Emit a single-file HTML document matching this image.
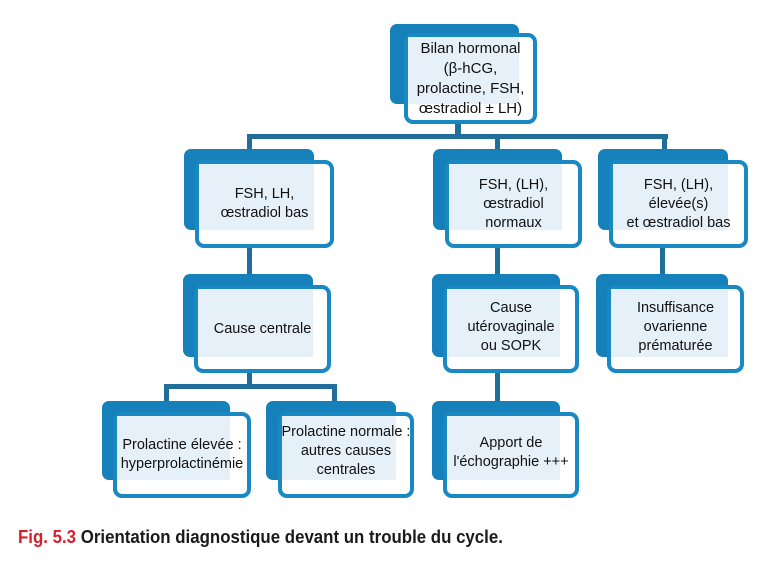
<!DOCTYPE html>
<html><head><meta charset="utf-8">
<style>
body{margin:0;width:765px;height:562px;background:#fff;position:relative;overflow:hidden;font-family:"Liberation Sans",Arial,sans-serif;}
.bk{position:absolute;background:#1580b9;border-radius:7px;}
.fr{position:absolute;background:#fff;border:4px solid #1a88c2;border-radius:9px;box-sizing:border-box;}
.pl{position:absolute;background:#e6f0f8;}
.tx{position:absolute;display:flex;align-items:center;justify-content:center;text-align:center;font-size:14.5px;line-height:19px;color:#111;}
.ln{position:absolute;background:#1f6f9a;}
.cap{position:absolute;left:18px;top:527px;font-family:"Liberation Sans",sans-serif;font-weight:bold;font-size:18px;color:#1a1a1a;white-space:nowrap;transform:scaleX(0.936);transform-origin:0 0;}
.cap span{color:#d6202b;}
</style></head><body>

<!-- connectors -->
<div class="ln" style="left:455px;top:122px;width:6px;height:16px"></div>
<div class="ln" style="left:247px;top:134px;width:421px;height:5px"></div>
<div class="ln" style="left:247px;top:134px;width:5px;height:16px"></div>
<div class="ln" style="left:495px;top:134px;width:5px;height:16px"></div>
<div class="ln" style="left:662px;top:134px;width:5px;height:16px"></div>
<div class="ln" style="left:247px;top:246px;width:5px;height:30px"></div>
<div class="ln" style="left:495px;top:246px;width:5px;height:30px"></div>
<div class="ln" style="left:660px;top:246px;width:5px;height:30px"></div>
<div class="ln" style="left:247px;top:371px;width:5px;height:16px"></div>
<div class="ln" style="left:164px;top:384px;width:173px;height:5px"></div>
<div class="ln" style="left:164px;top:384px;width:5px;height:18px"></div>
<div class="ln" style="left:332px;top:384px;width:5px;height:18px"></div>
<div class="ln" style="left:495px;top:371px;width:5px;height:31px"></div>

<!-- top -->
<div class="bk" style="left:390px;top:24px;width:129px;height:80px"></div>
<div class="fr" style="left:404px;top:33px;width:133px;height:91px"></div>
<div class="pl" style="left:408px;top:37px;width:111px;height:67px"></div>
<div class="tx" style="left:404px;top:33px;width:133px;height:91px;font-size:15px;line-height:20px">Bilan hormonal<br>(β-hCG,<br>prolactine, FSH,<br>œstradiol ± LH)</div>

<!-- row2 -->
<div class="bk" style="left:184px;top:149px;width:130px;height:81px"></div>
<div class="fr" style="left:195px;top:160px;width:139px;height:88px"></div>
<div class="pl" style="left:199px;top:164px;width:115px;height:66px"></div>
<div class="tx" style="left:195px;top:160px;width:139px;height:88px">FSH, LH,<br>œstradiol bas</div>

<div class="bk" style="left:433px;top:149px;width:129px;height:81px"></div>
<div class="fr" style="left:445px;top:160px;width:137px;height:88px"></div>
<div class="pl" style="left:449px;top:164px;width:113px;height:66px"></div>
<div class="tx" style="left:445px;top:160px;width:137px;height:88px">FSH, (LH),<br>œstradiol<br>normaux</div>

<div class="bk" style="left:598px;top:149px;width:130px;height:81px"></div>
<div class="fr" style="left:609px;top:160px;width:139px;height:88px"></div>
<div class="pl" style="left:613px;top:164px;width:115px;height:66px"></div>
<div class="tx" style="left:609px;top:160px;width:139px;height:88px">FSH, (LH),<br>élevée(s)<br>et œstradiol bas</div>

<!-- row3 -->
<div class="bk" style="left:183px;top:274px;width:130px;height:83px"></div>
<div class="fr" style="left:194px;top:285px;width:137px;height:88px"></div>
<div class="pl" style="left:198px;top:289px;width:115px;height:68px"></div>
<div class="tx" style="left:194px;top:285px;width:137px;height:88px">Cause centrale</div>

<div class="bk" style="left:432px;top:274px;width:128px;height:83px"></div>
<div class="fr" style="left:443px;top:285px;width:136px;height:88px"></div>
<div class="pl" style="left:447px;top:289px;width:113px;height:68px"></div>
<div class="tx" style="left:443px;top:283px;width:136px;height:88px">Cause<br>utérovaginale<br>ou SOPK</div>

<div class="bk" style="left:596px;top:274px;width:132px;height:83px"></div>
<div class="fr" style="left:607px;top:285px;width:137px;height:88px"></div>
<div class="pl" style="left:611px;top:289px;width:117px;height:68px"></div>
<div class="tx" style="left:607px;top:283px;width:137px;height:88px">Insuffisance<br>ovarienne<br>prématurée</div>

<!-- row4 -->
<div class="bk" style="left:102px;top:401px;width:128px;height:79px"></div>
<div class="fr" style="left:113px;top:412px;width:138px;height:86px"></div>
<div class="pl" style="left:117px;top:416px;width:113px;height:64px"></div>
<div class="tx" style="left:113px;top:412px;width:138px;height:86px">Prolactine élevée :<br>hyperprolactinémie</div>

<div class="bk" style="left:266px;top:401px;width:130px;height:79px"></div>
<div class="fr" style="left:278px;top:412px;width:136px;height:86px"></div>
<div class="pl" style="left:282px;top:416px;width:114px;height:64px"></div>
<div class="tx" style="left:278px;top:408px;width:136px;height:86px">Prolactine normale :<br>autres causes<br>centrales</div>

<div class="bk" style="left:432px;top:401px;width:128px;height:79px"></div>
<div class="fr" style="left:443px;top:412px;width:136px;height:86px"></div>
<div class="pl" style="left:447px;top:416px;width:113px;height:64px"></div>
<div class="tx" style="left:443px;top:410px;width:136px;height:86px">Apport de<br>l'échographie +++</div>

<div class="cap"><span>Fig. 5.3</span> Orientation diagnostique devant un trouble du cycle.</div>
</body></html>
